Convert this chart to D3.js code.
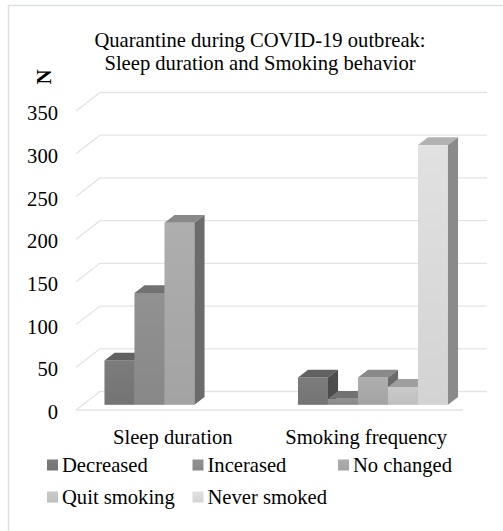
<!DOCTYPE html>
<html>
<head>
<meta charset="utf-8">
<script src="https://cdn.jsdelivr.net/npm/d3@7"></script>
<style>
  html, body { margin: 0; padding: 0; background: #fff; }
  svg { display: block; }
</style>
</head>
<body>
<script>
// ---- data ----
const titleLines = ["Quarantine during COVID-19 outbreak:", "Sleep duration and Smoking behavior"];
const axisTitle = "N";
const categories = ["Sleep duration", "Smoking frequency"];
const seriesNames = ["Decreased", "Incerased", "No changed", "Quit smoking", "Never smoked"];
const sleepValues = [52, 131, 213, null, null];
const smokingValues = [32, 7, 32, 21, 304];
const yTicks = [0, 50, 100, 150, 200, 250, 300, 350];
const seriesColors = ["#777777", "#8b8b8b", "#a7a7a7", "#c2c2c2", "#d8d8d8"];

const valuesByCategory = [sleepValues, smokingValues];

// ---- layout ----
const W = 503, H = 531;
const floorLeft = 76, floorRight = 463, floorY = 410, topY = 111;
const depthX = 24, depthY = 18.5;          // oblique offset of the back wall
const barFront = 0.28, barBack = 0.70;     // bar depth within the floor
const gapWidth = 1.45;                     // gap between clusters, in bar widths
const fontSize = 20.6;
const fontFamily = "'Liberation Serif', Tinos, 'Times New Roman', 'Nimbus Roman', 'DejaVu Serif', serif";

const svg = d3.select("body").append("svg")
  .attr("width", W).attr("height", H)
  .attr("font-family", fontFamily)
  .style("font-family", fontFamily);

// gradients for the bar fronts
const defs = svg.append("defs");
seriesColors.forEach((c, i) => {
  const g = defs.append("linearGradient")
    .attr("id", "grad" + i).attr("x1", 0).attr("y1", 0).attr("x2", 0).attr("y2", 1);
  g.append("stop").attr("offset", "0%").attr("stop-color", d3.color(c).brighter(0.12));
  g.append("stop").attr("offset", "100%").attr("stop-color", d3.color(c).darker(0.06));
});

// chart frame
svg.append("rect")
  .attr("x", 8.5).attr("y", 5.5).attr("width", W).attr("height", H)
  .attr("fill", "#fff").attr("stroke", "#dcdfe4").attr("stroke-width", 1.5);

// scales
const y = d3.scaleLinear().domain([0, 350]).range([floorY, topY]);
const xCat = d3.scaleBand().domain(categories).range([floorLeft, floorRight]);
const barW = xCat.bandwidth() / (seriesNames.length + gapWidth);
const clusterGap = gapWidth * barW / 2;
const xSer = d3.scaleBand().domain(seriesNames)
  .range([clusterGap, clusterGap + barW * seriesNames.length]);

// gridlines: side wall + back wall
const grid = svg.append("g").attr("fill", "none").attr("stroke", "#e1e5eb").attr("stroke-width", 1.3);
yTicks.forEach(v => {
  grid.append("path").attr("d",
    `M${floorLeft},${y(v)} L${floorLeft + depthX},${y(v) - depthY} L${floorRight + depthX},${y(v) - depthY}`);
});
// floor front edge
grid.append("line")
  .attr("x1", floorLeft).attr("x2", floorRight)
  .attr("y1", y(0)).attr("y2", y(0));

// tick labels
svg.append("g").selectAll("text").data(yTicks).join("text")
  .attr("x", 58).attr("y", d => y(d) + 2)
  .attr("dy", "0.35em")
  .attr("text-anchor", "end")
  .attr("font-size", fontSize)
  .text(d => d);

// bars
const fx = barFront * depthX, fy = barFront * depthY;
const sx = (barBack - barFront) * depthX, sy = (barBack - barFront) * depthY;
const bars = svg.append("g");
categories.forEach((cat, ci) => {
  valuesByCategory[ci].forEach((v, si) => {
    if (v == null) return;
    const left = xCat(cat) + xSer(seriesNames[si]) + fx;
    const right = left + barW;
    const bottom = y(0) - fy;
    const top = y(v) - fy;
    const base = d3.color(seriesColors[si]);
    const g = bars.append("g");
    g.append("rect")
      .attr("x", left).attr("y", top)
      .attr("width", barW).attr("height", bottom - top)
      .attr("fill", `url(#grad${si})`);
    g.append("path")
      .attr("d", `M${left},${top} L${right},${top} L${right + sx},${top - sy} L${left + sx},${top - sy} Z`)
      .attr("fill", base.darker(0.55));
    g.append("path")
      .attr("d", `M${right},${top} L${right + sx},${top - sy} L${right + sx},${bottom - sy} L${right},${bottom} Z`)
      .attr("fill", base.darker(1.25));
  });
});

// category labels
svg.append("g").selectAll("text").data(categories).join("text")
  .attr("x", d => xCat(d) + xCat.bandwidth() / 2)
  .attr("y", 444)
  .attr("text-anchor", "middle")
  .attr("font-size", fontSize)
  .text(d => d);

// title
svg.append("g").selectAll("text").data(titleLines).join("text")
  .attr("x", 260).attr("y", (d, i) => 47 + i * 22.5)
  .attr("text-anchor", "middle")
  .attr("font-size", fontSize)
  .text(d => d);

// axis title
svg.append("text")
  .attr("transform", "translate(44,77) rotate(-90)")
  .attr("text-anchor", "middle")
  .attr("dy", "0.35em")
  .attr("font-size", 21)
  .attr("font-weight", "bold")
  .text(axisTitle);

// legend
const legendX0 = 47, legendDX = 145.5, legendY0 = 465, legendDY = 32;
const legend = svg.append("g").selectAll("g").data(seriesNames).join("g")
  .attr("transform", (d, i) => `translate(${legendX0 + (i % 3) * legendDX},${legendY0 + Math.floor(i / 3) * legendDY})`);
legend.append("rect")
  .attr("x", 0).attr("y", -5.5).attr("width", 11).attr("height", 11)
  .attr("fill", (d, i) => `url(#grad${i})`);
legend.append("text")
  .attr("x", 15).attr("y", 0).attr("dy", "0.33em")
  .attr("font-size", fontSize)
  .text(d => d);
</script>
</body>
</html>
